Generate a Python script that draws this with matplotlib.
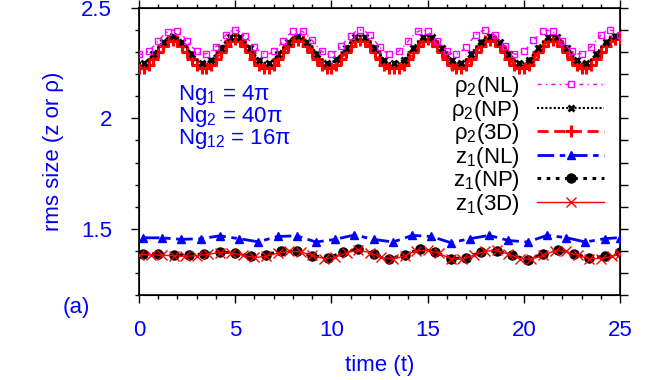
import matplotlib
matplotlib.use("Agg")
import matplotlib.pyplot as plt
from matplotlib.ticker import MultipleLocator

plt.rcParams['font.family'] = ['Liberation Sans', 'DejaVu Sans']
plt.rcParams['mathtext.fontset'] = 'custom'
plt.rcParams['mathtext.rm'] = 'Liberation Sans'
plt.rcParams['mathtext.it'] = 'Liberation Sans:italic'

# ---------------- data ----------------
t_rho = [0, 0.25, 0.5, 0.75, 1, 1.25, 1.5, 1.75, 2, 2.25, 2.5, 2.75, 3, 3.25, 3.5, 3.75,
         4, 4.25, 4.5, 4.75, 5, 5.25, 5.5, 5.75, 6, 6.25, 6.5, 6.75, 7, 7.25, 7.5, 7.75,
         8, 8.25, 8.5, 8.75, 9, 9.25, 9.5, 9.75, 10, 10.25, 10.5, 10.75, 11, 11.25, 11.5, 11.75,
         12, 12.25, 12.5, 12.75, 13, 13.25, 13.5, 13.75, 14, 14.25, 14.5, 14.75, 15, 15.25, 15.5, 15.75,
         16, 16.25, 16.5, 16.75, 17, 17.25, 17.5, 17.75, 18, 18.25, 18.5, 18.75, 19, 19.25, 19.5, 19.75,
         20, 20.25, 20.5, 20.75, 21, 21.25, 21.5, 21.75, 22, 22.25, 22.5, 22.75, 23, 23.25, 23.5, 23.75,
         24, 24.25, 24.5, 24.75, 25]

rho2_nl = [2.290, 2.292, 2.305, 2.326, 2.352, 2.375, 2.393, 2.400, 2.394, 2.377, 2.352, 2.324, 2.303,
           2.292, 2.293, 2.304, 2.325, 2.351, 2.376, 2.395, 2.401, 2.393, 2.375, 2.351, 2.325, 2.305,
           2.293, 2.292, 2.303, 2.324, 2.352, 2.377, 2.394, 2.399, 2.394, 2.376, 2.353, 2.326, 2.304,
           2.291, 2.292, 2.305, 2.326, 2.352, 2.375, 2.393, 2.400, 2.395, 2.377, 2.352, 2.324, 2.303,
           2.292, 2.293, 2.304, 2.325, 2.351, 2.376, 2.394, 2.401, 2.394, 2.375, 2.351, 2.325, 2.305,
           2.293, 2.291, 2.303, 2.324, 2.352, 2.377, 2.395, 2.400, 2.393, 2.376, 2.352, 2.326, 2.304,
           2.291, 2.292, 2.305, 2.326, 2.353, 2.376, 2.394, 2.399, 2.394, 2.377, 2.352, 2.324, 2.303,
           2.292, 2.293, 2.304, 2.325, 2.352, 2.376, 2.394, 2.400, 2.394, 2.376]

rho2_np = [2.251, 2.253, 2.267, 2.290, 2.321, 2.347, 2.366, 2.374, 2.368, 2.347, 2.319, 2.290, 2.265,
           2.252, 2.252, 2.266, 2.291, 2.320, 2.348, 2.367, 2.375, 2.367, 2.346, 2.320, 2.289, 2.266,
           2.253, 2.251, 2.265, 2.290, 2.321, 2.347, 2.368, 2.374, 2.366, 2.347, 2.321, 2.291, 2.267,
           2.252, 2.252, 2.267, 2.290, 2.320, 2.346, 2.367, 2.373, 2.367, 2.348, 2.320, 2.290, 2.265,
           2.250,
           2.252, 2.253, 2.266, 2.289, 2.320, 2.347, 2.367, 2.375, 2.368, 2.347, 2.319, 2.290, 2.266,
           2.251, 2.252, 2.267, 2.291, 2.321, 2.348, 2.366, 2.374, 2.367, 2.346, 2.320, 2.290, 2.265,
           2.252, 2.252, 2.266, 2.290, 2.320, 2.347, 2.367, 2.375, 2.367, 2.347, 2.321, 2.291, 2.266,
           2.252, 2.251, 2.266, 2.290, 2.320, 2.347, 2.367, 2.374, 2.372]

rho2_3d = [2.228, 2.230, 2.244, 2.269, 2.301, 2.329, 2.349, 2.357, 2.351, 2.328, 2.299, 2.268, 2.243,
           2.229, 2.228, 2.243, 2.270, 2.300, 2.330, 2.350, 2.358, 2.350, 2.329, 2.300, 2.269, 2.244,
           2.230, 2.229, 2.242, 2.269, 2.301, 2.329, 2.351, 2.357, 2.349, 2.329, 2.301, 2.270, 2.243,
           2.229, 2.229, 2.244, 2.268, 2.300, 2.328, 2.350, 2.356, 2.350, 2.330, 2.300, 2.269, 2.242,
           2.227,
           2.229, 2.230, 2.243, 2.269, 2.300, 2.329, 2.350, 2.358, 2.351, 2.329, 2.299, 2.268, 2.243,
           2.228, 2.229, 2.244, 2.270, 2.301, 2.330, 2.349, 2.357, 2.350, 2.328, 2.300, 2.269, 2.244,
           2.229, 2.228, 2.243, 2.269, 2.300, 2.329, 2.350, 2.357, 2.350, 2.329, 2.301, 2.270, 2.243,
           2.229, 2.229, 2.243, 2.269, 2.300, 2.329, 2.352, 2.360, 2.365]

t_z1_nl = [0.2, 1.2, 2.2, 3.2, 4.2, 5.2, 6.2, 7.2, 8.2, 9.2, 10.2, 11.2, 12.2, 13.2, 14.2,
           15.2, 16.2, 17.2, 18.2, 19.2, 20.2, 21.2, 22.2, 23.2, 24.2, 25.0]
z1_nl = [1.459, 1.459, 1.452, 1.455, 1.468, 1.455, 1.441, 1.465, 1.468, 1.440, 1.452, 1.472, 1.452,
         1.440, 1.470, 1.465, 1.437, 1.455, 1.470, 1.447, 1.440, 1.470, 1.460, 1.440, 1.455, 1.460]

t_z1_np = [0.2, 1.0, 1.8, 2.6, 3.4, 4.2, 5.0, 5.8, 6.6, 7.4, 8.2, 9.0, 9.8, 10.6, 11.4, 12.2,
           13.0, 13.8, 14.6, 15.4, 16.2, 17.0, 17.8, 18.6, 19.4, 20.2, 21.0, 21.8, 22.6, 23.4, 24.2, 25.0]
z1_np = [1.386, 1.386, 1.383, 1.380, 1.386, 1.395, 1.390, 1.375, 1.383, 1.398, 1.398, 1.378, 1.368,
         1.393, 1.408, 1.386, 1.363, 1.383, 1.408, 1.395, 1.365, 1.368, 1.395, 1.401, 1.380, 1.360,
         1.386, 1.405, 1.386, 1.368, 1.375, 1.395]

t_z1_3d = [0.0, 0.6, 1.2, 1.8, 2.4, 3.0, 3.6, 4.2, 4.8, 5.4, 6.0, 6.6, 7.2, 7.8, 8.4, 9.0, 9.6,
           10.2, 10.8, 11.4, 12.0, 12.6, 13.2, 13.8, 14.4, 15.0, 15.6, 16.2, 16.8, 17.4, 18.0, 18.6,
           19.2, 19.8, 20.4, 21.0, 21.6, 22.2, 22.8, 23.4, 24.0, 24.6, 25.0]
z1_3d = [1.383, 1.382, 1.380, 1.378, 1.375, 1.378, 1.385, 1.392, 1.390, 1.380, 1.370, 1.375, 1.390,
         1.398, 1.395, 1.380, 1.365, 1.370, 1.392, 1.403, 1.392, 1.370, 1.362, 1.378, 1.400, 1.403,
         1.388, 1.365, 1.362, 1.380, 1.398, 1.402, 1.385, 1.365, 1.362, 1.380, 1.400, 1.398, 1.380,
         1.365, 1.365, 1.375, 1.385]

labels = [r'ρ$_\mathregular{2}$(NL)', r'ρ$_\mathregular{2}$(NP)', r'ρ$_\mathregular{2}$(3D)',
          r'z$_\mathregular{1}$(NL)', r'z$_\mathregular{1}$(NP)', r'z$_\mathregular{1}$(3D)']
x_ticks = [0, 5, 10, 15, 20, 25]
y_ticks = [1.5, 2.0, 2.5]
y_ticklabels = ['1.5', '2', '2.5']
notes = [r'Ng$_\mathregular{1}$ = 4π', r'Ng$_\mathregular{2}$ = 40π', r'Ng$_\mathregular{12}$ = 16π']

# ---------------- figure ----------------
BLUE = '#0000ff'
FS = 16
fig = plt.figure(figsize=(6.64, 3.80), dpi=100)
ax = fig.add_axes([139/664, 1 - 295/380, (620-139)/664, (295-8)/380])

h3d, = ax.plot(t_rho, rho2_3d, color='#ff0000', lw=2, dashes=(4, 2), marker='+', ms=8, mew=2.2,
               markevery=1, zorder=3)
hnp, = ax.plot(t_rho, rho2_np, color='black', lw=1.5, dashes=(1, 1), marker='x', ms=5, mew=2,
               markevery=(1, 2), zorder=4)
hnl, = ax.plot(t_rho, rho2_nl, color='#ff00ff', lw=1, dashes=(3, 3, 1, 3), marker='s', ms=5,
               mfc='none', mew=1, markevery=2, zorder=5)
hz_nl, = ax.plot(t_z1_nl, z1_nl, color=BLUE, lw=2, dashes=(6, 2, 2, 2), marker='^', ms=6, zorder=3)
hz_np, = ax.plot(t_z1_np, z1_np, color='black', lw=2.2, dashes=(1.2, 1.8), marker='o', ms=6.5, zorder=4)
hz_3d, = ax.plot(t_z1_3d, z1_3d, color='#ff0000', lw=1, marker='x', ms=7, mew=1, zorder=5)

ax.set_xlim(0, 25)
ax.set_ylim(1.2, 2.5)
ax.set_xticks(x_ticks)
ax.set_xticklabels([str(v) for v in x_ticks])
ax.set_yticks(y_ticks)
ax.set_yticklabels(y_ticklabels)
ax.xaxis.set_minor_locator(MultipleLocator(1))
ax.yaxis.set_minor_locator(MultipleLocator(0.1))

ax.tick_params(axis='both', which='both', colors='black', labelcolor=BLUE, labelsize=FS,
               direction='out')
ax.tick_params(axis='x', which='both', top=True, bottom=True)
ax.tick_params(axis='y', which='both', left=True, right=False)
ax.tick_params(which='major', length=6, width=1)
ax.tick_params(which='minor', length=3, width=1)
ax.tick_params(axis='x', which='major', pad=12)
ax.tick_params(axis='y', which='major', pad=13.5)
for s in ax.spines.values():
    s.set_linewidth(1.2)

# right-side outward ticks every 0.1
ax2 = ax.twinx()
ax2.set_ylim(1.2, 2.5)
ax2.yaxis.set_major_locator(MultipleLocator(0.1))
ax2.tick_params(axis='y', direction='out', length=6, width=1, labelright=False)
ax2.set_zorder(ax.get_zorder() - 1)
ax.patch.set_visible(False)

ax.set_xlabel('time (t)', color=BLUE, fontsize=FS, labelpad=10)
ax.set_ylabel('rms size (z or ρ)', color=BLUE, fontsize=FS, labelpad=12.5)

note_y = [0.679, 0.602, 0.525]
for s, yy in zip(notes, note_y):
    ax.text(0.081, yy, s, transform=ax.transAxes, color=BLUE, fontsize=FS,
            va='baseline', ha='left')
fig.text(76/664, 1 - 307/380, '(a)', color=BLUE, fontsize=FS, ha='center', va='center')

leg = ax.legend([hnl, hnp, h3d, hz_nl, hz_np, hz_3d], labels, loc='upper right',
                bbox_to_anchor=(604/664, 1 - 74/380), bbox_transform=fig.transFigure,
                frameon=False, markerfirst=False, fontsize=FS, handlelength=3.0,
                handletextpad=0.8, labelspacing=-0.065, borderpad=0, borderaxespad=0,
                numpoints=1, markerscale=1)

fig.savefig('out.png', dpi=100)
